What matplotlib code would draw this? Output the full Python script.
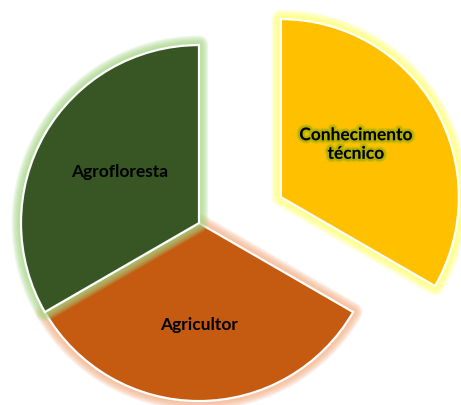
import numpy as np
import matplotlib
matplotlib.use("Agg")
import matplotlib.pyplot as plt
from matplotlib.patches import Wedge
import matplotlib.patheffects as pe

# slices, drawn counter-clockwise from 12 o'clock
labels = ["Agrofloresta", "Agricultor", "Conhecimento\ntécnico"]
values = [1, 1, 1]
colors = ["#375623", "#C55A11", "#FFC000"]
glow_colors = ["#A9D98A", "#F6B48A", "#FFFF70"]

fig = plt.figure(figsize=(4.61, 4.05), dpi=100)
ax = fig.add_axes([0, 0, 1, 1])

wedges, _ = ax.pie(values, colors=colors, startangle=90, counterclock=True,
                   wedgeprops=dict(edgecolor="white", linewidth=1.6))
ax.set_xlim(-1.118, 1.472)
ax.set_ylim(-1.022, 1.253)
ax.set_aspect("equal")
ax.axis("off")

# pulled-out slice (moved by hand, not along its bisector)
wedges[2].set_center((0.46, 0.146))

zorders = [4, 2, 6]
lab_r = [0.53, 0.57, 0.515]
lab_adj = [-3, 0, 5]

for i, w in enumerate(wedges):
    w.set_zorder(zorders[i])
    cx, cy = w.center
    # soft glow around the slice
    for k in range(14):
        g = Wedge((cx, cy), w.r, w.theta1, w.theta2, facecolor="none",
                  edgecolor=glow_colors[i], linewidth=1.5 + k * 0.95,
                  alpha=0.11, joinstyle="round", zorder=zorders[i] - 1)
        ax.add_patch(g)
    ang = np.deg2rad((w.theta1 + w.theta2) / 2 + lab_adj[i])
    tx = cx + lab_r[i] * np.cos(ang)
    ty = cy + lab_r[i] * np.sin(ang)
    t = ax.text(tx, ty, labels[i], ha="center", va="center",
                fontsize=12.5, fontweight="bold", family="Lato",
                color="black", zorder=10, linespacing=1.2)
    if i == 2:
        t.set_path_effects([
            pe.Stroke(linewidth=5, foreground="#9DB000", alpha=0.3),
            pe.Stroke(linewidth=3, foreground="#8FA800", alpha=0.55),
            pe.Normal()])

fig.savefig("out.png", dpi=100)
